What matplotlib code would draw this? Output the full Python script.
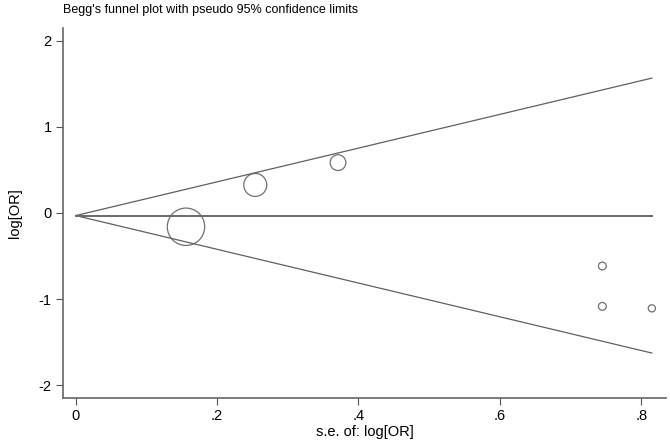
import matplotlib.pyplot as plt
import numpy as np

plt.rcParams['font.family'] = ['Liberation Sans', 'DejaVu Sans']

# study estimates
se = np.array([0.156, 0.254, 0.371, 0.745, 0.745, 0.815])
log_or = np.array([-0.16, 0.326, 0.585, -0.616, -1.085, -1.108])
pooled = -0.03

fig = plt.figure(figsize=(6.7, 4.42), dpi=100)
ax = fig.add_axes([0.094, 0.0995, 0.90, 0.8372])

# pseudo 95% confidence limits
se_line = np.array([0, se.max()])
ax.plot(se_line, pooled + 1.96 * se_line, color='#606060', lw=0.9)
ax.plot(se_line, pooled - 1.96 * se_line, color='#606060', lw=0.9)
ax.plot(se_line, [pooled, pooled], color='#6a6a6a', lw=1.4)

# marker size weighted by 1/se
sizes = (4.2 / se) ** 2
ax.scatter(se, log_or, s=sizes, facecolors='none', edgecolors='#707070', linewidths=0.9)

ax.set_xlim(-0.018, 0.835)
ax.set_ylim(-2.15, 2.15)
ax.set_xticks([0, 0.2, 0.4, 0.6, 0.8])
ax.set_xticklabels(['0', '.2', '.4', '.6', '.8'])
ax.set_yticks([-2, -1, 0, 1, 2])
ax.set_yticklabels(['-2', '-1', '0', '1', '2'])
ax.tick_params(labelsize=10.5, length=5, color='#555555', pad=3)
for s in ['top', 'right']:
    ax.spines[s].set_visible(False)
for s in ['left', 'bottom']:
    ax.spines[s].set_color('#666666')
    ax.spines[s].set_linewidth(1.2)

ax.set_xlabel('s.e. of: log[OR]', fontsize=10.5, labelpad=1)
ax.set_ylabel('log[OR]', fontsize=10.5, labelpad=12)
fig.text(0.094, 0.977, "Begg's funnel plot with pseudo 95% confidence limits",
         fontsize=9, va='center', ha='left')

fig.savefig('out.png', dpi=100)
